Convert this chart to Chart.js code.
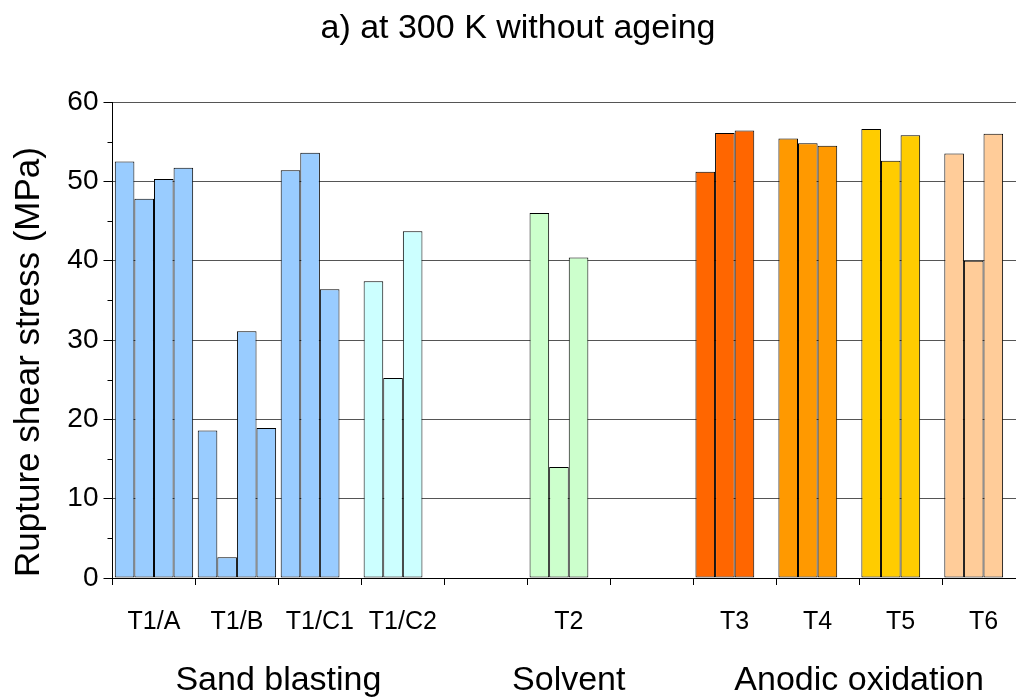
<!DOCTYPE html>
<html>
<head>
<meta charset="utf-8">
<script src="https://cdn.jsdelivr.net/npm/chart.js@4.4.1/dist/chart.umd.min.js"></script>
<style>
html,body{margin:0;padding:0;overflow:hidden;background:#fff;}
#wrap{width:1040px;height:700px;}
</style>
</head>
<body>
<div id="wrap"><canvas id="c" width="1040" height="700"></canvas></div>
<script>
const categories = ['T1/A','T1/B','T1/C1','T1/C2','','T2','','T3','T4','T5','T6'];
const specimen1 = [52.5, 18.6, 51.4, 37.4, null, 46.0, null, 51.2, 55.4, 56.6, 53.5];
const specimen2 = [47.8,  2.6, 53.6, 25.2, null, 14.0, null, 56.1, 54.8, 52.6, 40.0];
const specimen3 = [50.3, 31.1, 36.4, 43.7, null, 40.4, null, 56.4, 54.5, 55.8, 56.0];
const specimen4 = [51.7, 18.9, null, null, null, null, null, null, null, null, null];
const categoryColors = ['#99CCFF','#99CCFF','#99CCFF','#CCFFFF','#FFFFFF','#CCFFCC','#FFFFFF','#FF6600','#FF9900','#FFCC00','#FFCC99'];
const yTicks = [0,10,20,30,40,50,60];
const minorTicks = [5,15,25,35,45,55];
const groupLabels = ['Sand blasting','Solvent','Anodic oxidation'];
const groupRanges = [[0,3],[5,5],[7,10]];
const chartTitle = 'a) at 300 K without ageing';
const yTitle = 'Rupture shear stress (MPa)';

const FONT = "'Liberation Sans', Arial, sans-serif";

const mk = (label, data) => ({
  label, data,
  backgroundColor: categoryColors,
  borderColor: '#000',
  borderWidth: 1,
  borderSkipped: false,
  barPercentage: 1.0,
  categoryPercentage: 0.945
});

const extras = {
  id: 'extras',
  afterDraw(chart) {
    const ctx = chart.ctx;
    const x = chart.scales.x, y = chart.scales.y;
    ctx.save();
    ctx.strokeStyle = '#000';
    ctx.lineWidth = 1;
    minorTicks.forEach(v => {
      const py = Math.round(y.getPixelForValue(v)) + 0.5;
      ctx.beginPath();
      ctx.moveTo(chart.chartArea.left - 5, py);
      ctx.lineTo(chart.chartArea.left, py);
      ctx.stroke();
    });
    ctx.fillStyle = '#000';
    ctx.font = '34px ' + FONT;
    ctx.textAlign = 'center';
    ctx.textBaseline = 'middle';
    ctx.fillText(chartTitle, 518, 29);
    groupRanges.forEach((r, i) => {
      const cx = (x.getPixelForValue(r[0]) + x.getPixelForValue(r[1])) / 2;
      ctx.fillText(groupLabels[i], cx, 681);
    });
    ctx.font = '35px ' + FONT;
    ctx.translate(29, 362);
    ctx.rotate(-Math.PI / 2);
    ctx.fillText(yTitle, 0, 0);
    ctx.restore();
  }
};

new Chart(document.getElementById('c'), {
  type: 'bar',
  data: {
    labels: categories,
    datasets: [mk('1', specimen1), mk('2', specimen2), mk('3', specimen3), mk('4', specimen4)]
  },
  options: {
    responsive: false,
    animation: false,
    layout: { padding: { top: 102, left: 0, right: 15, bottom: 0 } },
    plugins: { legend: { display: false }, tooltip: { enabled: false }, title: { display: false } },
    scales: {
      x: {
        afterFit(s) { s.height = 122; },
        grid: { drawOnChartArea: false, drawTicks: true, tickLength: 7, tickColor: '#000', offset: true },
        border: { color: '#000', width: 1 },
        ticks: { color: '#000', font: { family: FONT, size: 25 }, padding: 22, maxRotation: 0, autoSkip: false }
      },
      y: {
        min: 0, max: 60,
        afterFit(s) { s.width = 112.5; },
        afterBuildTicks(s) { s.ticks = yTicks.map(v => ({ value: v })); },
        grid: { color: '#555', lineWidth: 1, tickLength: 9, tickColor: '#000' },
        border: { color: '#000', width: 1 },
        ticks: { color: '#000', font: { family: FONT, size: 28 }, padding: 5 }
      }
    }
  },
  plugins: [extras]
});
</script>
</body>
</html>
